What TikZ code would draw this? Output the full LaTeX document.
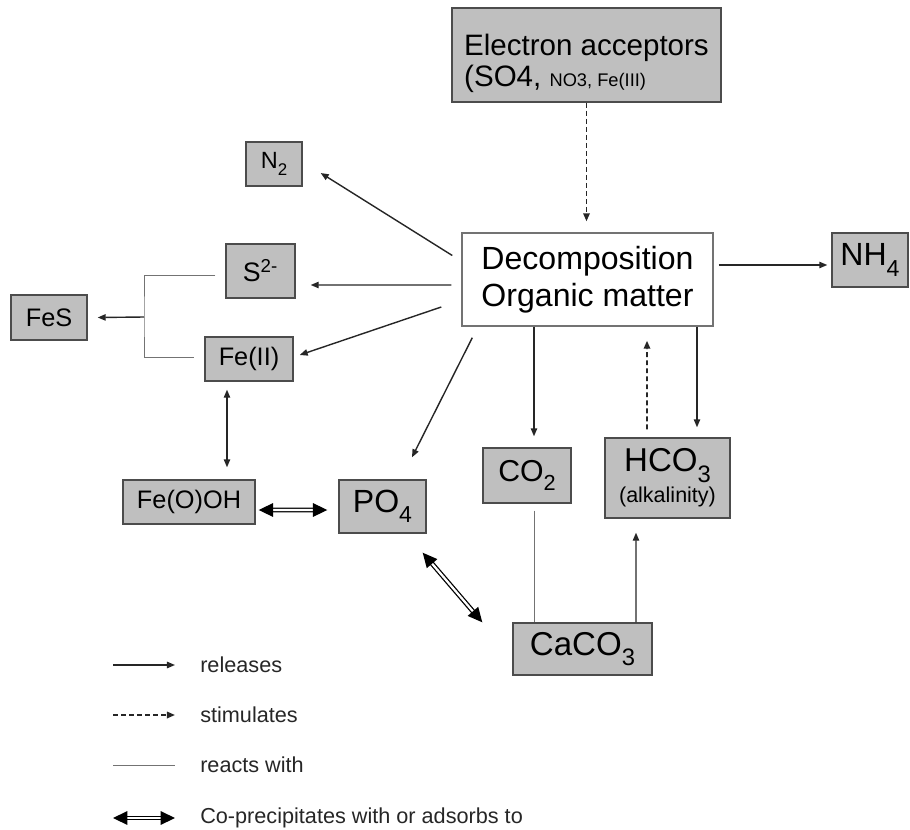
\documentclass[tikz,border=0pt]{standalone}
\usepackage{fontspec}
\usepackage{graphicx}
\setmainfont{Liberation Sans}
\usetikzlibrary{arrows.meta, positioning}

\newcommand{\px}{0.025cm}
\newcommand{\fsz}[2]{\fontsize{#1}{#2}\selectfont}
\newcommand{\lowsub}[1]{\raisebox{-0.32em}{\scalebox{0.72}{#1}}}

\begin{document}
\begin{tikzpicture}[
        x=0.025cm, y=-0.025cm,
        % Estilo para compuestos
        compound/.style={
                rectangle,
                draw=black!70,
                line width=1pt,
                fill=gray!50,
                inner sep=0pt,
                text=black,
                align=center
            },
        % Caja central
        processbox/.style={
                compound,
                fill=white,
                draw=black!55
            },
        % Flechas
        release/.style={
                -{Triangle[length=0.2cm, width=0.16cm]},
                line width=1pt,
                color=black!85
            },
        twoway/.style={
                {Triangle[length=0.2cm, width=0.16cm]}-{Triangle[length=0.2cm, width=0.16cm]},
                line width=1pt,
                color=black!85
            },
        stimulate/.style={
                release,
                line width=1.3pt,
                dash pattern=on 3.5pt off 2.2pt
            },
        react/.style={
                line width=0.7pt,
                color=black!55
            },
        coprec/.style={
                {Triangle[length=0.36cm, width=0.34cm]}-{Triangle[length=0.36cm, width=0.34cm]},
                draw=black,
                double=white,
                line width=0.9pt,
                double distance=1.6pt
            },
        legtext/.style={
                anchor=west,
                inner sep=0pt,
                font=\fsz{15.4}{18},
                text=black!85
            }
    ]

    \useasboundingbox (0,0) rectangle (910,830);

    % Aceptores de electrones
    \node[compound, align=left, minimum width=269*\px, minimum height=94*\px, font=\fsz{21}{22.5}] (acc) at (586.5,55)
        {\raisebox{0pt}[1.3em][0pt]{}Electron acceptors\\(SO4, {\fsz{13}{22.5}NO3, Fe(III)}};

    % Descomposicion
    \node[processbox, minimum width=251*\px, minimum height=93*\px, font=\fsz{22.8}{26.3}] (decomp) at (587.5,279.5)
        {Decomposition\\Organic matter};

    % Productos
    \node[compound, minimum width=76*\px, minimum height=54*\px, font=\fsz{22.8}{26}] (nh4) at (870,260) {NH\lowsub{4}};
    \node[compound, minimum width=56*\px, minimum height=44*\px, font=\fsz{16.7}{19}] (n2) at (274,164) {N\lowsub{2}};
    \node[compound, minimum width=69*\px, minimum height=54*\px, font=\fsz{19}{22}] (s2) at (260.5,271) {S\textsuperscript{2-}};
    \node[compound, minimum width=76*\px, minimum height=45*\px, font=\fsz{18}{21}] (fes) at (49,317.5) {FeS};
    \node[compound, minimum width=88*\px, minimum height=44*\px, font=\fsz{18}{21}] (fe2) at (249,359) {Fe(II)};
    \node[compound, minimum width=132*\px, minimum height=44*\px, font=\fsz{18}{21}] (feooh) at (189,502) {Fe(O)OH};
    \node[compound, minimum width=87*\px, minimum height=53*\px, font=\fsz{22.8}{26}] (po4) at (382.5,506.5) {PO\lowsub{4}};
    \node[compound, minimum width=88*\px, minimum height=55*\px, font=\fsz{21.5}{25}] (co2) at (527,475.5) {CO\lowsub{2}};
    \node[compound, minimum width=125*\px, minimum height=80*\px, font=\fsz{23.5}{22}] (hco3) at (667.5,478)
        {HCO\lowsub{3}\\{\fsz{15.3}{22}(alkalinity)}};
    \node[compound, minimum width=139*\px, minimum height=52*\px, font=\fsz{23.5}{26}] (caco3) at (582.5,649) {CaCO\lowsub{3}};

    % Flechas desde la descomposicion
    \draw[stimulate] (acc.south) -- ([yshift=11*\px]acc.south |- decomp.north);
    \draw[release] ([shift={(-9,-24)}]decomp.west) -- ([shift={(18,9)}]n2.east);
    \draw[release] ([shift={(-10,5.5)}]decomp.west) -- ([shift={(15,14)}]s2.east);
    \draw[release] ([shift={(-20,27.5)}]decomp.west) -- ([shift={(6,-4)}]fe2.east);
    \draw[release] ([shift={(11,11)}]decomp.south west) -- ([shift={(29.5,-22)}]po4.north);
    \draw[release] ([shift={(5,-14.5)}]decomp.east) -- ([shift={(-4,5)}]nh4.west);
    \draw[release] ([shift={(-53.5,0)}]decomp.south) -- ([shift={(7,-11)}]co2.north);
    \draw[release] ([shift={(109.5,0)}]decomp.south) -- ([shift={(29.5,-10)}]hco3.north);
    \draw[stimulate] ([shift={(-20.5,-8)}]hco3.north) -- ([shift={(59.5,14)}]decomp.south);

    % Carbonatos
    \draw[release] ([shift={(53.5,0)}]caco3.north) -- ([shift={(-31.5,14)}]hco3.south);
    \draw[react] ([shift={(7,7)}]co2.south) -- ([shift={(-48.5,0)}]caco3.north);

    % Hierro y azufre
    \coordinate (fork) at (144,317);
    \draw[react] ([shift={(-10,4)}]s2.west) -| (fork) |- ([shift={(-10,-2)}]fe2.west);
    \draw[release] (fork) -- ([xshift=10*\px]fes.east);
    \draw[twoway] ([shift={(-22,8)}]fe2.south) -- ([shift={(38,-12)}]feooh.north);

    % Coprecipitacion
    \draw[coprec] ([shift={(3,8)}]feooh.east) -- ([shift={(-11,3.5)}]po4.west);
    \draw[coprec] ([shift={(-4,19)}]po4.south east) -- ([shift={(-30,0)}]caco3.north west);

    % Leyenda
    \foreach \yy/\sty/\txt/\nm in {665/release/releases/rel,
            715/stimulate/stimulates/sti,
            765/react/reacts with/rea,
            818/coprec/Co-precipitates with or adsorbs to/cop} {
        \node[legtext] (leg\nm) at (200,\yy) {\txt};
        \coordinate (leg\nm start) at (113,\yy);
        \draw[\sty] (leg\nm start) -- ([xshift=-25*\px]leg\nm.west);
    }

\end{tikzpicture}
\end{document}
